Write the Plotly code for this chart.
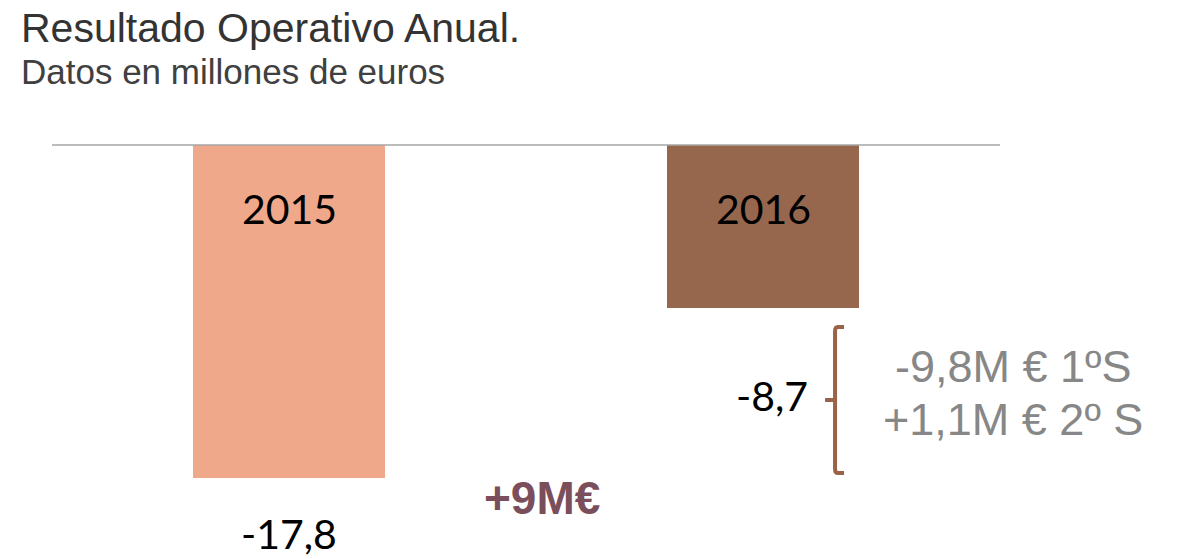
import plotly.graph_objects as go

years = ["2015", "2016"]
values = [-17.8, -8.7]
value_labels = ["-17,8", "-8,7"]
bar_colors = ["#F0A88A", "#96674D"]
semester_labels = ["-9,8M € 1ºS", "+1,1M € 2º S"]
delta_label = "+9M€"
title_text = "Resultado Operativo Anual."
subtitle_text = "Datos en millones de euros"

fig = go.Figure()
fig.add_trace(go.Bar(
    x=[0, 1], y=values, base=0, width=0.403,
    marker=dict(color=bar_colors, line=dict(width=0)),
    hoverinfo="skip", showlegend=False,
))

digit_font = dict(family="Lato, Open Sans, sans-serif", size=41, color="#000000")
arial = "Liberation Sans, Arial, sans-serif"

annotations = []
# year labels inside bars
for i, yr in enumerate(years):
    annotations.append(dict(x=i, y=-3.37, xref="x", yref="y", text=yr,
                            showarrow=False, font=digit_font,
                            xanchor="center", yanchor="middle"))
# value labels
annotations.append(dict(x=0, y=values[0] - 2.95, xref="x", yref="y", text=value_labels[0],
                        showarrow=False, font=digit_font, xanchor="center", yanchor="middle"))
annotations.append(dict(x=1.099, y=-13.4, xref="x", yref="y", text=value_labels[1],
                        showarrow=False, font=digit_font, xanchor="right", yanchor="middle"))
# semester labels
sem_font = dict(family=arial, size=45, color="#878787")
for yv, txt in zip([-11.85, -14.7], semester_labels):
    annotations.append(dict(x=(1013 - 52) / 948, y=yv, xref="paper", yref="y", text=txt,
                            showarrow=False, font=sem_font, xanchor="center", yanchor="middle"))
# delta
annotations.append(dict(x=0.534, y=-18.9, xref="x", yref="y", text="<b>" + delta_label + "</b>",
                        showarrow=False,
                        font=dict(family=arial, size=46, color="#7B4E5B"),
                        xanchor="center", yanchor="middle"))
# title & subtitle
annotations.append(dict(x=(19 - 52) / 948, y=(559 - 28) / 419, xref="paper", yref="paper",
                        text=title_text, showarrow=False, xanchor="left", yanchor="middle",
                        font=dict(family=arial, size=41, color="#333333")))
annotations.append(dict(x=(19 - 52) / 948, y=(559 - 71) / 419, xref="paper", yref="paper",
                        text=subtitle_text, showarrow=False, xanchor="left", yanchor="middle",
                        font=dict(family=arial, size=35, color="#404040")))

shapes = [
    dict(type="line", xref="paper", yref="y", x0=0, x1=1, y0=0, y1=0,
         line=dict(color="#A6A6A6", width=1.5), layer="above"),
    dict(type="path", xref="x", yref="y", layer="above",
         path="M 1.171,-9.73 L 1.158,-9.73 Q 1.152,-9.73 1.152,-9.95 L 1.152,-13.64 "
              "L 1.131,-13.64 M 1.152,-13.64 L 1.152,-17.32 Q 1.152,-17.54 1.158,-17.54 L 1.171,-17.54",
         line=dict(color="#9A6248", width=4)),
]

fig.update_layout(
    width=1190, height=559,
    margin=dict(l=52, r=190, t=140, b=0),
    paper_bgcolor="white", plot_bgcolor="white",
    xaxis=dict(range=[-0.5, 1.5], visible=False, fixedrange=True),
    yaxis=dict(range=[-414 / 18.7, 5 / 18.7], visible=False, fixedrange=True),
    annotations=annotations, shapes=shapes,
    bargap=0, showlegend=False,
)

fig.write_html("out.html", config={"displayModeBar": False},
               post_script="document.body.style.margin='0px';")
